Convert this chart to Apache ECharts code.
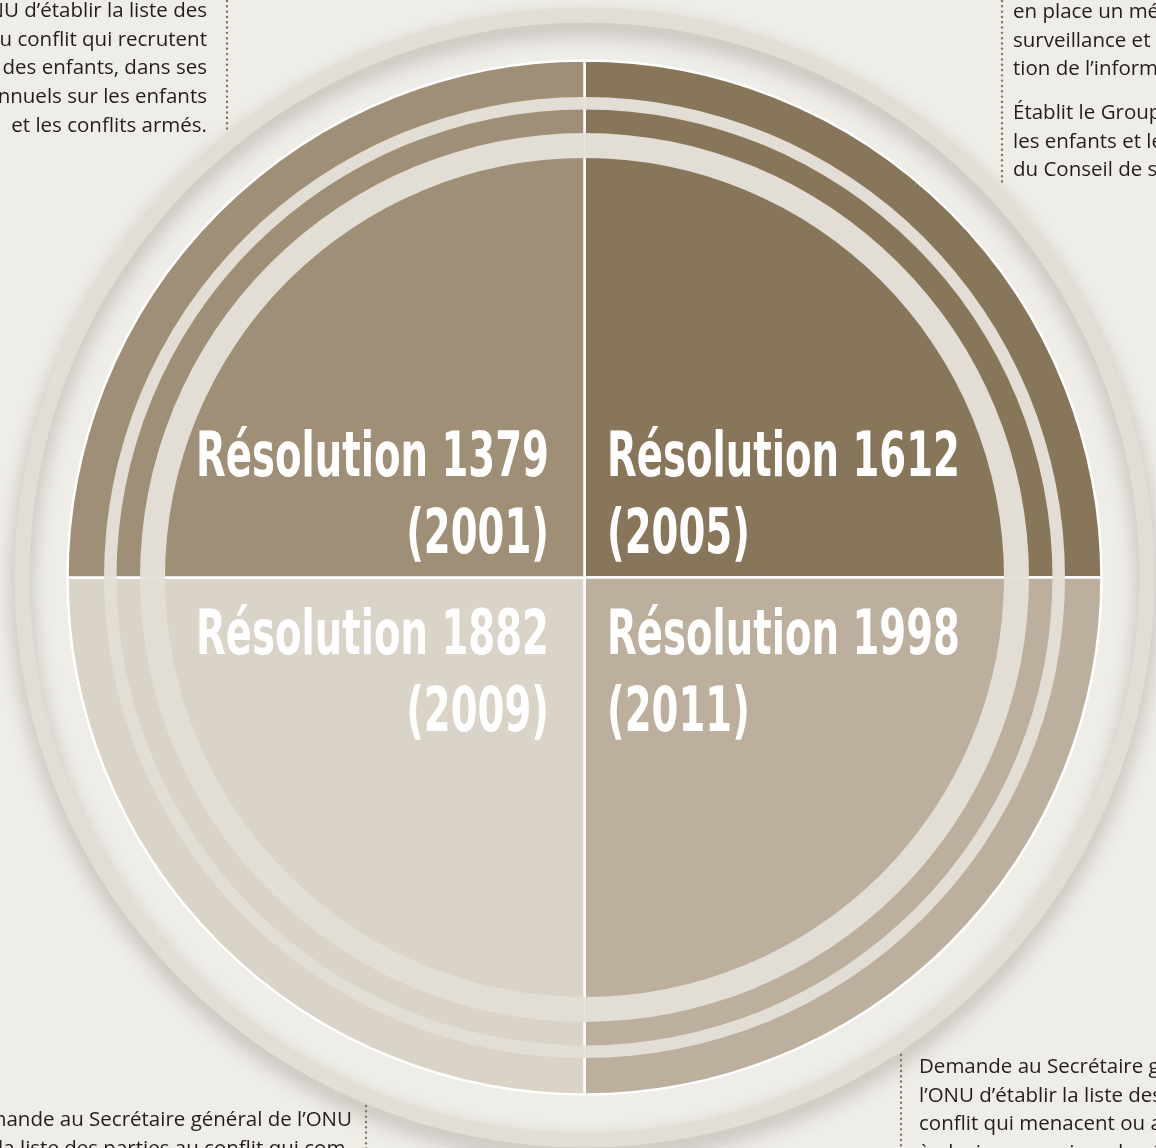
<!DOCTYPE html>
<html><head><meta charset="utf-8">
<script src="https://cdn.jsdelivr.net/npm/echarts@6/dist/echarts.min.js"></script>
<style>html,body{margin:0;padding:0;background:#efede8;overflow:hidden}#c{width:1156px;height:1148px}</style>
</head><body><div id="c"></div>
<script>
// ---- data ----
const resolutions = ['Résolution 1612', 'Résolution 1998', 'Résolution 1882', 'Résolution 1379'];
const years = ['(2005)', '(2011)', '(2009)', '(2001)'];
const shares = [1, 1, 1, 1];
const sliceColors = ['#88765a', '#bcaf9e', '#dad3c8', '#9e8f76'];
const noteTopLeft = ["l’ONU d’établir la liste des", "parties au conflit qui recrutent", "ou utilisent des enfants, dans ses", "rapports annuels sur les enfants", "et les conflits armés."];
const noteTopRight = ["en place un mécanisme de", "surveillance et de communica-", "tion de l’information (MRM).", "", "Établit le Groupe de travail sur", "les enfants et les conflits armés", "du Conseil de sécurité."];
const noteBottomLeft = ["Demande au Secrétaire général de l’ONU", "d’établir la liste des parties au conflit qui com-"];
const noteBottomRight = ["Demande au Secrétaire général de", "l’ONU d’établir la liste des parties au", "conflit qui menacent ou attaquent", "à plusieurs reprises des écoles"];

// ---- layout ----
const cx = 584.5, cy = 577.5;
const R = 517;
const ringColor = '#e2ded5';
const labelFont = 'bold 62px "Liberation Sans Narrow", "DejaVu Sans Condensed", sans-serif';
const noteFont = '20.5px "Open Sans", Lato, sans-serif';

const chart = echarts.init(document.getElementById('c'), null, {renderer: 'canvas'});

// fit condensed label width
const mctx = document.createElement('canvas').getContext('2d');
mctx.font = labelFont;
const scaleX = 353 / mctx.measureText(resolutions[3]).width;

const graphics = [];
// quadrant labels: 0 TR, 1 BR, 2 BL, 3 TL
resolutions.forEach((name, i) => {
  const right = (i === 0 || i === 1);
  const top = (i === 0 || i === 3);
  const x = right ? cx + 22.5 : cx - 35.5;
  const y1 = top ? cy - 118 : cy + 60;
  [name, years[i]].forEach((t, k) => {
    graphics.push({
      type: 'text', x: x, y: y1 + k * 77, scaleX: scaleX, z: 100, silent: true,
      style: {text: t, font: labelFont, fill: '#ffffff', align: right ? 'left' : 'right', verticalAlign: 'middle'}
    });
  });
});

function noteBlock(lines, x, y0, align) {
  lines.forEach((t, k) => {
    if (!t) return;
    graphics.push({type: 'text', x: x, y: y0 + k * 28.8, z: 100, silent: true,
      style: {text: t, font: noteFont, fill: '#221e1b', align: align, verticalAlign: 'middle'}});
  });
}
noteBlock(noteTopLeft, 207, 11, 'right');
noteBlock(noteTopRight.slice(0, 3), 1013, 12, 'left');
noteBlock(noteTopRight.slice(4), 1013, 113, 'left');
noteBlock(noteBottomLeft, 352, 1120, 'right');
noteBlock(noteBottomRight, 919, 1067, 'left');

function dots(x, y1, y2) {
  graphics.push({type: 'line', z: 100, silent: true, shape: {x1: x, y1: y1, x2: x, y2: y2},
    style: {stroke: '#85725a', lineWidth: 2.4, lineDash: [0.01, 5.3], lineCap: 'round'}});
}
dots(227, 1, 130);
dots(1002, 1, 182);
dots(366, 1106, 1150);
dots(901, 1055, 1150);

const base = {type: 'pie', center: [cx, cy], startAngle: 90, clockwise: true, silent: true,
  label: {show: false}, labelLine: {show: false}, animation: false};

chart.setOption({
  backgroundColor: '#efede8',
  series: [
    Object.assign({}, base, {
      name: 'outer', z: 1, radius: [555, 570],
      data: [{value: 1, itemStyle: {color: ringColor, shadowBlur: 20, shadowOffsetY: 10, shadowColor: 'rgba(60,50,40,0.3)'}}]
    }),
    Object.assign({}, base, {
      name: 'resolutions', z: 2, radius: [0, R],
      data: resolutions.map((n, i) => ({name: n, value: shares[i], itemStyle: {color: sliceColors[i], borderColor: '#ffffff', borderWidth: 2.5}}))
    }),
    Object.assign({}, base, {
      name: 'ring1', z: 3, radius: [468, 480.5],
      data: shares.map(v => ({value: v, itemStyle: {color: ringColor}}))
    }),
    Object.assign({}, base, {
      name: 'ring2', z: 3, radius: [419.5, 444.5],
      data: shares.map(v => ({value: v, itemStyle: {color: ringColor}}))
    })
  ],
  graphic: graphics
});
</script></body></html>
